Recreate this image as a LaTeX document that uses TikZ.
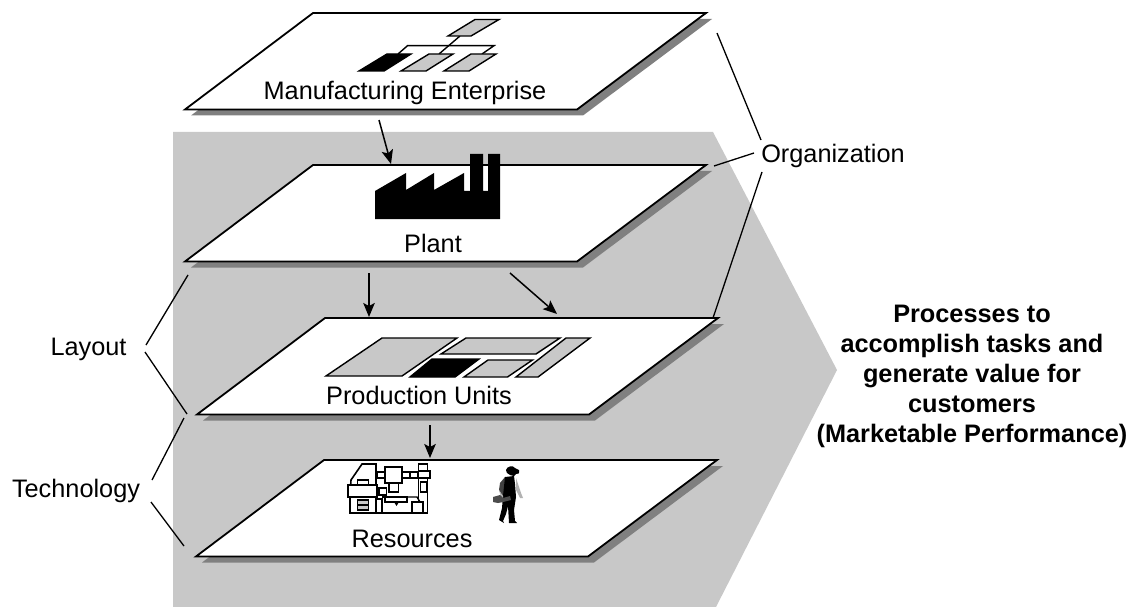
\documentclass[tikz,border=0pt]{standalone}
\usepackage{fontspec}
\setmainfont{Liberation Sans}
\usetikzlibrary{arrows.meta}
\definecolor{bggray}{HTML}{C8C8C8}
\definecolor{shadowgray}{HTML}{808080}
\tikzset{
  plateface/.style={fill=white,draw=black,line width=1.8pt,line join=miter},
  plateshadow/.style={fill=shadowgray,draw=none},
  flowarrow/.style={draw=black,line width=1.5pt,-{Stealth[length=14pt,width=11.5pt,inset=3pt]}},
  bracket/.style={draw=black,line width=1.3pt},
  label/.style={font=\fontsize{25.3}{30}\selectfont,anchor=base,inner sep=0pt,text=black},
  boldlabel/.style={font=\fontsize{25.3}{30}\selectfont\bfseries,anchor=base,inner sep=0pt,text=black},
  icongray/.style={fill=bggray,draw=black,line width=1.4pt,line join=miter},
  iconblack/.style={fill=black,draw=black,line width=1.4pt,line join=miter},
  iconline/.style={draw=black,line width=1.4pt},
  mach/.style={fill=white,draw=black,line width=1.6pt},
}
\newcommand{\plateat}[2]{%
  \fill[plateshadow] (#1+6,#2+6) -- (#1+399,#2+6) -- (#1+270,#2+102.5) -- (#1-122,#2+102.5) -- cycle;
  \draw[plateface] (#1,#2) -- (#1+393,#2) -- (#1+264,#2+96.5) -- (#1-128,#2+96.5) -- cycle;
}
\begin{document}
\begin{tikzpicture}[x=1pt,y=-1pt]
\useasboundingbox (0,0) rectangle (1133,607);
% background arrow shape
\fill[bggray] (173,132) -- (713,132) -- (837,370) -- (716,607) -- (173,607) -- cycle;
% plates
\plateat{313}{13}
\plateat{313}{165}
\plateat{325}{318}
\plateat{324}{460}
% enterprise icon
\draw[iconline] (460,36) -- (439,54);
\draw[iconline] (398,54) -- (407.5,45.7) -- (494,45.7) -- (482,54);
\draw[icongray] (475,19.5) -- (499,19.5) -- (471,36) -- (448,36) -- cycle;
\draw[iconblack] (387,54) -- (411,54) -- (384,71) -- (359,71) -- cycle;
\draw[icongray] (429,54) -- (453,54) -- (426,71) -- (401,71) -- cycle;
\draw[icongray] (471,54) -- (496,54) -- (469,71) -- (444,71) -- cycle;
% factory
\fill[black] (375,191) -- (406,173) -- (406,190) -- (434,173) -- (434,190) -- (464,173) -- (464,191) -- (470,191) -- (470,154) -- (483,154) -- (483,191) -- (488,191) -- (488,154) -- (500,154) -- (500,219) -- (375,219) -- cycle;
% production units icon
\draw[icongray] (382,338) -- (457,338) -- (402,376) -- (326,376) -- cycle;
\draw[icongray] (466,338) -- (560,338) -- (536,354) -- (441,354) -- cycle;
\draw[icongray] (566,338) -- (590,338) -- (538,377) -- (516,377) -- cycle;
\draw[iconblack] (432,359) -- (479,359) -- (455,377) -- (410,377) -- cycle;
\draw[icongray] (488,360) -- (532.5,360) -- (507.5,377) -- (464,377) -- cycle;
% machine icon
\draw[mach] (350,513) -- (350,497) -- (351,480) -- (362,464) -- (376,464) -- (376,513) -- cycle;
\draw[mach] (376,513) -- (427.5,513) -- (427.5,464) -- (418.5,464) -- (418.5,513);
\draw[mach] (348,485) rectangle (377,497);
\draw[mach] (357.5,480) rectangle (368.5,485);
\draw[icongray] (357.5,500) rectangle (368.5,510);
\draw[iconline] (357.5,505) -- (368.5,505);
\draw[mach] (377,472) rectangle (385,478);
\draw[mach] (385,467) rectangle (402,483);
\draw[mach] (402,472) rectangle (410,478);
\draw[mach] (410,472) rectangle (418,478);
\draw[mach] (418.5,471) rectangle (430,478);
\draw[mach] (420.5,482) rectangle (426.5,492);
\draw[mach] (389,483) rectangle (398.5,492);
\draw[mach] (379,488) rectangle (386.5,495);
\draw[mach] (385,497) rectangle (407,502);
\draw[mach] (376,499) rectangle (382,513);
\draw[mach] (412,502) rectangle (423,513);
\draw[iconline] (382,497) -- (385,497);
\draw[iconline] (407,497) -- (417,497) -- (420,502);
\fill[black] (394,502) -- (399,502) -- (396.5,506) -- cycle;
% person
\fill[black] (506,470) .. controls (507,466) and (513,465) .. (515,468) -- (519,470) .. controls (520,473) and (518,475) .. (516,474) -- (514,476) -- (510,475) .. controls (507,474) and (506,472) .. (506,470) -- cycle;
\fill[black!75] (505,477) -- (500,483) -- (499,490) -- (502,496) -- (505,494) -- cycle;
\fill[black] (505,477) -- (514,476) -- (515,484) -- (516,497) -- (514,510) -- (515,521) -- (517,523) -- (509,523) -- (508,506) -- (506,514) -- (503,521) -- (504,523) -- (499,520) -- (502,508) -- (503,496) -- cycle;
\fill[black!30] (516,478) -- (518,484) -- (521,493) -- (523,498) -- (520,498) -- (516,490) -- cycle;
\fill[black!30] (499,490) -- (501,497) -- (503,498) -- (503,496) -- cycle;
\fill[black!70] (493,497) -- (500,495) -- (503,498) -- (510,496) -- (511,500) -- (503,502) -- (498,503) -- (493,502) -- cycle;
% labels
\node[label] (enterprise) at (405,100) {Manufacturing Enterprise};
\node[label] (plant) at (433,252) {Plant};
\node[label] (units) at (419,404) {Production Units};
\node[label] (resources) at (412,547) {Resources};
\node[label] (organization) at (833,163) {Organization};
\node[label] (layout) at (88.5,355) {Layout};
\node[label] (technology) at (76,497) {Technology};
\node[boldlabel] (p1) at (972,322) {Processes to};
\node[boldlabel] (p2) at (972,352) {accomplish tasks and};
\node[boldlabel] (p3) at (972,382) {generate value for};
\node[boldlabel] (p4) at (972,412) {customers};
\node[boldlabel] (p5) at (972,442) {(Marketable Performance)};
% connector ends
\coordinate (a1s) at (379,120); \coordinate (a1e) at (391,164);
\coordinate (a2s) at (369,273); \coordinate (a2e) at (369,317);
\coordinate (a3s) at (510,273); \coordinate (a3e) at (557,314);
\coordinate (a4s) at (430,425); \coordinate (a4e) at (430,458);
\draw[flowarrow] (a1s) -- (a1e);
\draw[flowarrow] (a2s) -- (a2e);
\draw[flowarrow] (a3s) -- (a3e);
\draw[flowarrow] (a4s) -- (a4e);
% brackets
\coordinate (o1a) at (717,33); \coordinate (o1b) at (761,140);
\coordinate (o2a) at (714,166); \coordinate (o2b) at (754,153);
\coordinate (o3a) at (713,318); \coordinate (o3b) at (762,172);
\coordinate (l1a) at (146,345); \coordinate (l1b) at (188,275);
\coordinate (l2a) at (145,352); \coordinate (l2b) at (187,414);
\coordinate (t1a) at (152,480); \coordinate (t1b) at (184,418);
\coordinate (t2a) at (151,502); \coordinate (t2b) at (184,546);
\draw[bracket] (o1a) -- (o1b);
\draw[bracket] (o2a) -- (o2b);
\draw[bracket] (o3a) -- (o3b);
\draw[bracket] (l1a) -- (l1b);
\draw[bracket] (l2a) -- (l2b);
\draw[bracket] (t1a) -- (t1b);
\draw[bracket] (t2a) -- (t2b);
\end{tikzpicture}
\end{document}
